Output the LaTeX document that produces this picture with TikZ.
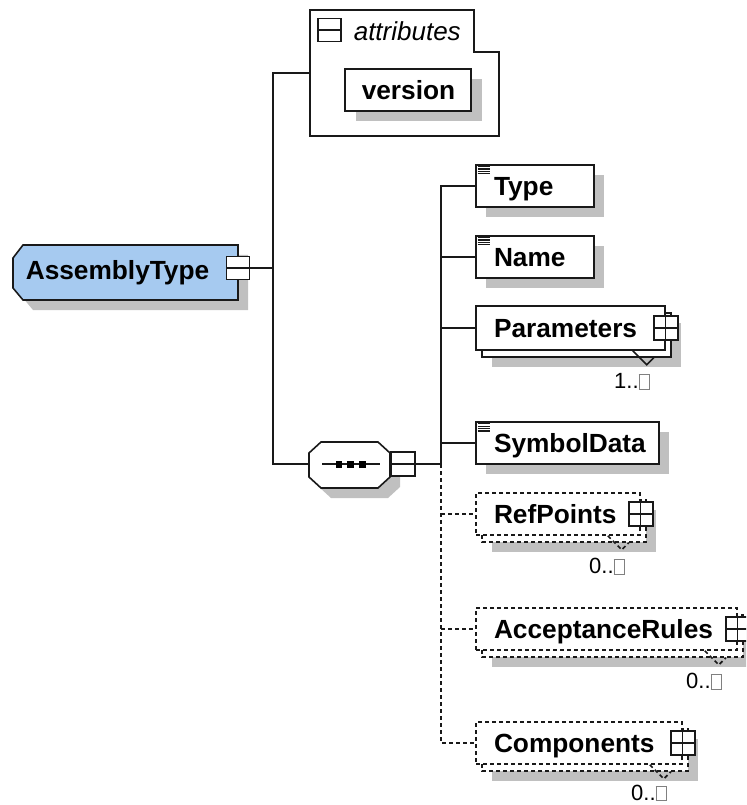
\documentclass[tikz,border=0pt]{standalone}
\usepackage{fontspec}
\setmainfont{Liberation Sans}
\usetikzlibrary{calc,fit}
\definecolor{shadowgray}{RGB}{192,192,192}
\definecolor{typeblue}{RGB}{166,202,240}
\definecolor{linecol}{RGB}{25,25,25}
\newcommand\infbox{{\fboxsep=0pt\fboxrule=0.5pt\color{gray}\fbox{\rule{0pt}{10.5pt}\hspace{7.5pt}}}}
\newcommand\cardoff{38}
\newcommand\xelem[7]{%
  \fill[shadow] (#3+10,#4+10) rectangle (#5+10,#6+10);
  \node[#2, fit={(#3,#4) (#5,#6)}] (#1) {};
  \node[lbl, anchor=base west] (#1-t) at ($(#1.west)+(18,9.3)$) {#7};}
\newcommand\xmulti[9]{%
  \fill[shadow] (#4+16,#5+17) rectangle (#6+16,#7+17);
  \draw[#2] (#4+6,#5+7) rectangle (#6+6,#7+7);
  \node[#2, fit={(#4,#5) (#6,#7)}] (#1) {};
  \node[lbl, anchor=base west] (#1-t) at ($(#1.west)+(18,9.3)$) {#8};
  \node[plusicon] (#1-p) at (#1.east) {};
  \draw[#3] ($(#1.south east)+(-33,0)$) -- ++(14,14) -- ++(7,-7);
  \node[card, anchor=base east] (#1-c) at ($(#1.south east)+(-15,\cardoff)$) {#9};}
\newcommand\docicon[1]{%
  \foreach \k in {0,1,2,3}{\draw[linecol, line width=0.9pt] ($(#1.north west)+(2.5,2.5+2.4*\k)$) -- ++(12,0);}}
\begin{document}
\begin{tikzpicture}[x=0.75pt,y=-0.75pt,line width=1.2pt,
  box/.style={draw=linecol, fill=white, inner sep=0pt, line width=1.2pt},
  optbox/.style={box, dash pattern=on 3pt off 2.25pt},
  shadow/.style={fill=shadowgray},
  lbl/.style={font=\bfseries\fontsize{19.7}{23}\selectfont, inner sep=0pt},
  card/.style={font=\fontsize{16.5}{19}\selectfont, inner sep=0pt},
  icon/.style={draw=linecol, fill=white, inner sep=0pt, minimum size=18pt, line width=1.1pt},
  minusicon/.style={icon, path picture={\draw[linecol, line width=0.9pt] (path picture bounding box.west) -- (path picture bounding box.east);}},
  plusicon/.style={icon, path picture={\draw[linecol, line width=0.9pt] (path picture bounding box.west) -- (path picture bounding box.east) (path picture bounding box.north) -- (path picture bounding box.south);}},
  conn/.style={draw=linecol, line width=1.2pt},
  optconn/.style={conn, dash pattern=on 3pt off 2.25pt}]
\useasboundingbox (0,0) rectangle (746,805);
\clip (0,0) rectangle (746,805);
\fill[white] (0,0) rectangle (746,805);

% AssemblyType
\fill[shadow] (33,255) -- (248,255) -- (248,310) -- (33,310) -- (23,298) -- (23,268) -- cycle;
\draw[linecol, fill=typeblue] (23,245) -- (238,245) -- (238,300) -- (23,300) -- (13,288) -- (13,258) -- cycle;
\node[lbl, anchor=base west] (asm-t) at (25,279) {AssemblyType};
\node[minusicon, minimum size=17pt] (asm-m) at (238,268) {};

% attributes
\draw[linecol, fill=white] (310,10) -- (474,10) -- (474,52) -- (499,52) -- (499,136) -- (310,136) -- cycle;
\node[minusicon, minimum size=17.25pt] (attr-m) at (329.5,30) {};
\node[font=\itshape\fontsize{19.5}{23}\selectfont, inner sep=0pt, anchor=base west] (attr-t) at (353,41) {attributes};
\fill[shadow] (356,79) rectangle (482,121);
\node[box, fit={(345,69) (471,111)}] (version) {};
\node[lbl, anchor=base] (version-t) at (408.5,100) {version};

% sequence
\fill[shadow] (331,452) -- (388,452) -- (400,463) -- (400,487) -- (388,498) -- (331,498) -- (319,487) -- (319,463) -- cycle;
\draw[linecol, fill=white] (321,442) -- (378,442) -- (390,453) -- (390,477) -- (378,488) -- (321,488) -- (309,477) -- (309,453) -- cycle;
\draw[linecol, line width=0.9pt] (322,464) -- (380,464);
\foreach \sx in {335.5,347.3,359.1}{\fill[black] (\sx,461) rectangle ++(6.5,6.5);}
\node[minusicon] (seq-m) at (403,464) {};

% connectors from AssemblyType
\coordinate (jA) at (273,268);
\coordinate (attrW) at (310,73);
\coordinate (seqW) at (309,464);
\draw[conn] (asm-m.east) -- (jA);
\draw[conn] (attrW) -| (jA) |- (seqW);

% children
\xelem{type}{box}{476}{165}{594}{207}{Type}
\docicon{type}
\xelem{name}{box}{476}{236}{594}{278}{Name}
\docicon{name}
\xmulti{params}{box}{conn}{476}{306}{665}{350}{Parameters}{1..\infbox}
\xelem{symbol}{box}{476}{422}{659}{464}{SymbolData}
\docicon{symbol}
\xmulti{refpts}{optbox}{optconn}{476}{493}{640}{535}{RefPoints}{0..\infbox}
\xmulti{accept}{optbox}{optconn}{476}{608}{737}{650}{AcceptanceRules}{0..\infbox}
\renewcommand\cardoff{35.5}
\xmulti{comps}{optbox}{optconn}{476}{722}{682}{764}{Components}{0..\infbox}

% connectors to children
\coordinate (cv) at (441,464);
\draw[conn] (seq-m.east) -- (cv);
\draw[conn] (cv) -- (type.west -| cv) -- (type.west);
\draw[conn] (name.west -| cv) -- (name.west);
\draw[conn] (params.west -| cv) -- (params.west);
\draw[conn] (symbol.west -| cv) -- (symbol.west);
\draw[optconn] (cv) -- (comps.west -| cv) -- (comps.west);
\draw[optconn] (refpts.west -| cv) -- (refpts.west);
\draw[optconn] (accept.west -| cv) -- (accept.west);
\end{tikzpicture}
\end{document}
